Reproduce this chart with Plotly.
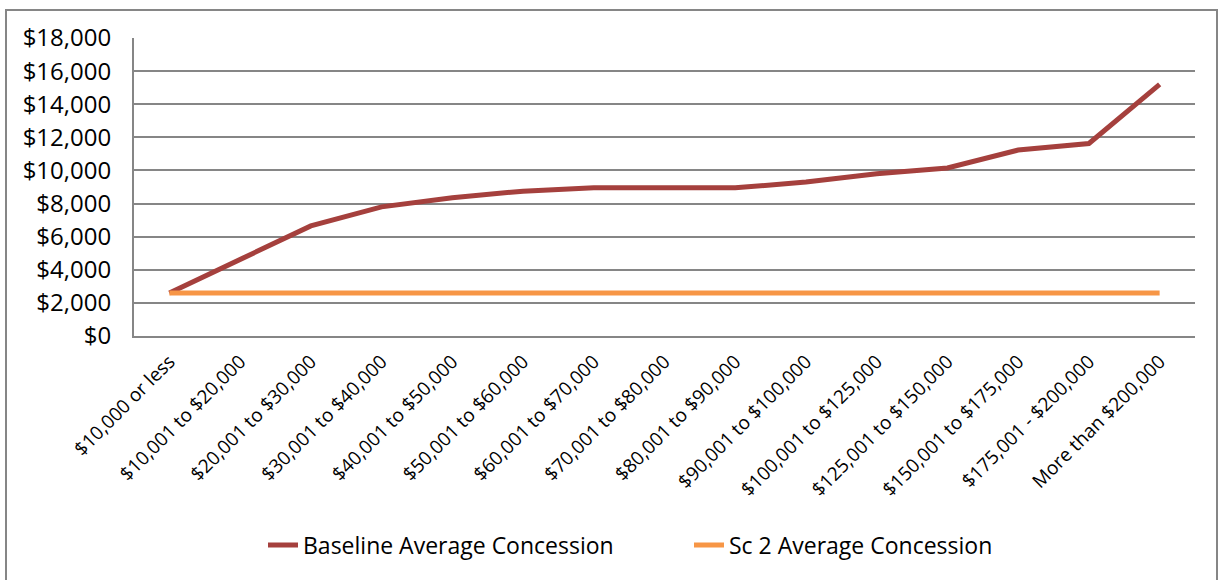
import plotly.graph_objects as go

categories = ["$10,000 or less", "$10,001 to $20,000", "$20,001 to $30,000", "$30,001 to $40,000",
              "$40,001 to $50,000", "$50,001 to $60,000", "$60,001 to $70,000", "$70,001 to $80,000",
              "$80,001 to $90,000", "$90,001 to $100,000", "$100,001 to $125,000", "$125,001 to $150,000",
              "$150,001 to $175,000", "$175,001 - $200,000", "More than $200,000"]
baseline = [2600, 4650, 6650, 7800, 8350, 8750, 8950, 8950, 8950, 9300, 9800, 10150, 11230, 11630, 15200]
sc2 = [2600] * 15
y_ticks = [0, 2000, 4000, 6000, 8000, 10000, 12000, 14000, 16000, 18000]
y_labels = ["$0", "$2,000", "$4,000", "$6,000", "$8,000", "$10,000", "$12,000", "$14,000", "$16,000", "$18,000"]

W, H = 1218, 580
L, R, T, B = 134, 1195, 38, 336

fig = go.Figure()
fig.add_trace(go.Scatter(x=categories, y=baseline, mode="lines", name="Baseline Average Concession",
                         line=dict(color="#A5403D", width=5)))
fig.add_trace(go.Scatter(x=categories, y=sc2, mode="lines", name="Sc 2 Average Concession",
                         line=dict(color="#F79646", width=5)))

pw = R - L
ph = B - T

font = "Open Sans, sans-serif"
fig.update_layout(
    width=W, height=H,
    margin=dict(l=L, r=W - R, t=T, b=H - B, autoexpand=False),
    paper_bgcolor="white", plot_bgcolor="white",
    font=dict(family=font, color="black"),
    showlegend=True,
    legend=dict(orientation="h", x=(263 - L) / pw, xanchor="left", y=(B - 545) / ph, yanchor="middle",
                font=dict(size=23, family=font), entrywidth=381, entrywidthmode="pixels",
                tracegroupgap=0),
    xaxis=dict(type="category", tickangle=-45, tickfont=dict(size=19, family=font),
               showgrid=False, showline=True, linecolor="#868686", linewidth=2,
               ticks="", range=[-0.5, 14.5], fixedrange=True, automargin=False,
               ticklabelstandoff=5),
    yaxis=dict(range=[0, 18000], tickvals=y_ticks, ticktext=y_labels,
               tickfont=dict(size=24, family=font), showgrid=True, gridcolor="#868686",
               gridwidth=2, showline=True, linecolor="#868686", linewidth=2,
               ticks="", ticklabelstandoff=16, zeroline=False, fixedrange=True, automargin=False),
)

fig.add_shape(type="rect", xref="paper", yref="paper",
              x0=(6 - L) / pw, x1=(1217 - L) / pw,
              y0=(B - 590) / ph, y1=1 + (T - 10) / ph,
              line=dict(color="#868686", width=2), fillcolor="rgba(0,0,0,0)", layer="below")

fig.write_html("out.html", config={"displayModeBar": False},
               post_script="document.body.style.margin='0px';")
